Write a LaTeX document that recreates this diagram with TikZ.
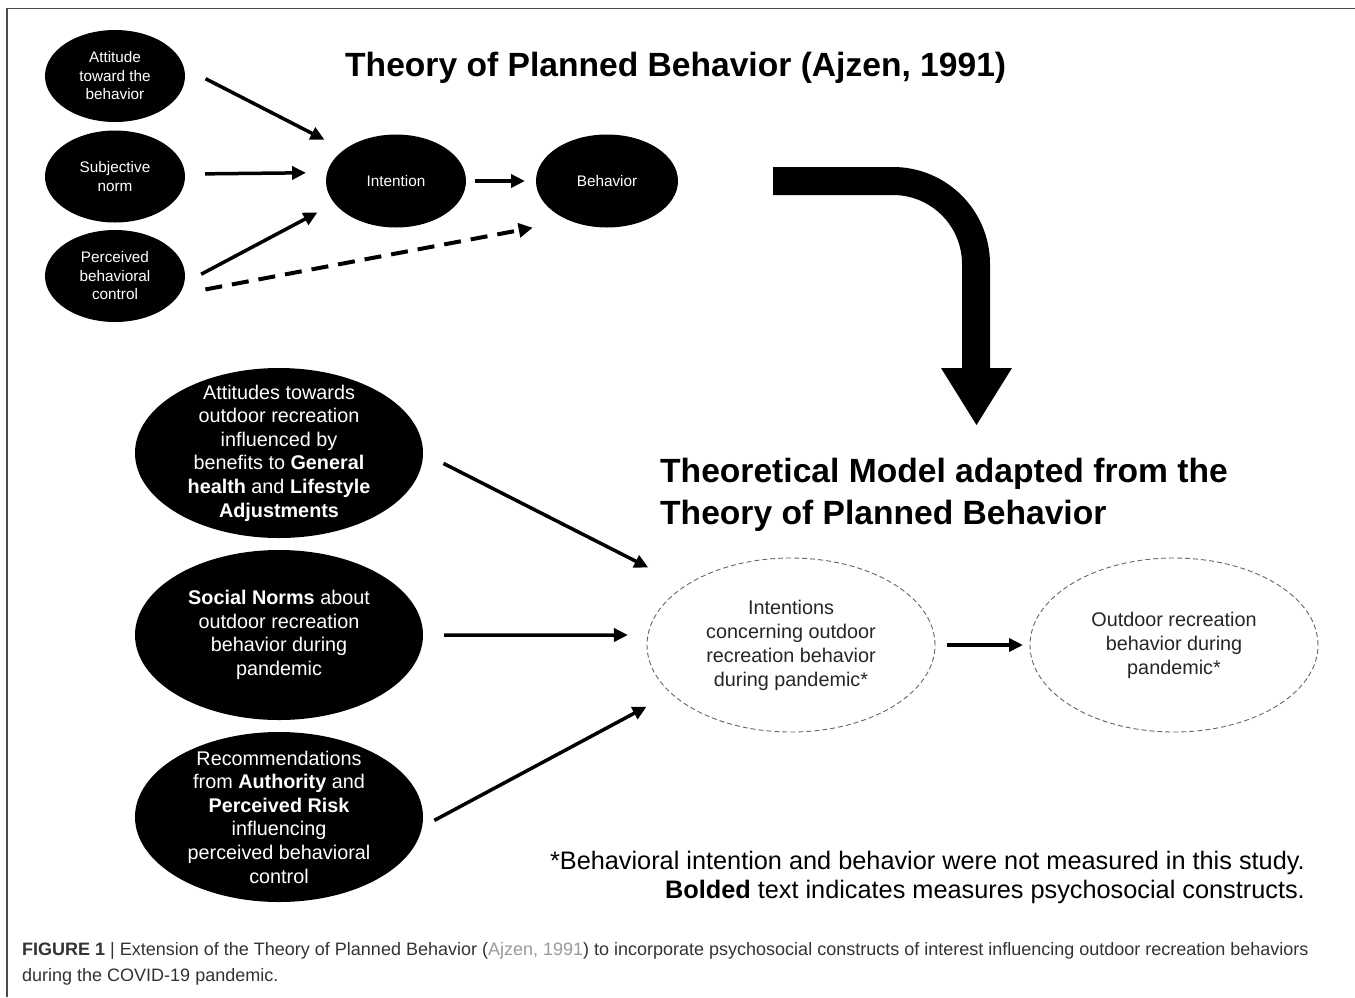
\documentclass[tikz,border=0pt]{standalone}
\usepackage{fontspec}
\setmainfont{Liberation Sans}
\usetikzlibrary{arrows.meta,shapes.geometric}
\definecolor{capgray}{HTML}{333333}
\definecolor{linkgray}{HTML}{9A9A9A}
\definecolor{framegray}{HTML}{4A4A4A}
\begin{document}
\begin{tikzpicture}[x=1pt,y=-1pt,
  blk/.style={ellipse, fill=black, draw=none, inner sep=0pt, outer sep=0pt},
  dell/.style={ellipse, draw=black!60, dash pattern=on 5pt off 3pt, line width=0.9pt, inner sep=0pt, outer sep=0pt},
  smtxt/.style={text=white, align=center, font=\fontsize{15.3}{18.5}\selectfont, inner sep=0pt},
  bigtxt/.style={text=white, align=center, font=\fontsize{19.8}{23.6}\selectfont, inner sep=0pt},
  dtxt/.style={text=black!85, align=center, font=\fontsize{19.8}{24}\selectfont, inner sep=0pt},
  arr/.style={line width=3.5pt, -{Triangle[length=14pt,width=13pt]}},
  darr/.style={line width=4pt, dash pattern=on 17pt off 10pt, -{Triangle[length=14pt,width=14pt]}},
  ttl/.style={font=\fontsize{33.6}{42}\selectfont\bfseries, inner sep=0pt, anchor=base west},
  foot/.style={font=\fontsize{25.3}{30}\selectfont, inner sep=0pt, anchor=base east},
  captxt/.style={font=\fontsize{18}{26}\selectfont, text=capgray, inner sep=0pt, anchor=base west},
]
\useasboundingbox (0,0) rectangle (1355,997);
\fill[white] (0,0) rectangle (1355,997);
% frame
\draw[framegray, line width=1.6pt] (7,997) -- (7,8.5) -- (1355,8.5);

% ---- Theory of Planned Behavior (top) ----
\node[ttl] (title1) at (345,76) {Theory of Planned Behavior (Ajzen, 1991)};

\node[blk, minimum width=140pt, minimum height=92pt] (att) at (115,76) {};
\node[smtxt] (attt) at (att) {Attitude\\toward the\\behavior};
\node[blk, minimum width=140pt, minimum height=92pt] (sub) at (115,176.5) {};
\node[smtxt] (subt) at (sub) {Subjective\\norm};
\node[blk, minimum width=140pt, minimum height=92pt] (pbc) at (115,276) {};
\node[smtxt] (pbct) at (pbc) {Perceived\\behavioral\\control};
\node[blk, minimum width=140pt, minimum height=93pt] (int) at (396,181) {};
\node[smtxt] (intt) at (int) {Intention};
\node[blk, minimum width=142pt, minimum height=93pt] (beh) at (607,181) {};
\node[smtxt] (beht) at (beh) {Behavior};

\draw[arr, shorten <=24.5pt, shorten >=22pt] (att.7.8) -- (int.149.6);
\draw[arr, shorten <=20.2pt, shorten >=21.1pt] (sub.2.9) -- (int.173.4);
\draw[arr, shorten <=19.3pt, shorten >=19.4pt] (pbc.-6.6) -- (int.200.6);
\draw[darr, shorten <=26.7pt, shorten >=38pt] (pbc.-16.6) -- (beh.227.5);
\draw[arr, shorten <=9pt, shorten >=11pt] (int.east) -- (beh.west);

% ---- big bent arrow ----
\fill[black] (773,167) -- (893,167) arc[start angle=90,end angle=0,radius=97pt]
  -- (990,368) -- (1012,368) -- (976.5,425) -- (941,368) -- (962,368)
  -- (962,264) arc[start angle=0,end angle=90,radius=69pt] -- (773,195) -- cycle;

% ---- adapted model ----
\node[ttl] (title2a) at (660,482) {Theoretical Model adapted from the};
\node[ttl] (title2b) at (660,524) {Theory of Planned Behavior};

\node[blk, minimum width=288pt, minimum height=170pt] (e1) at (279,453) {};
\node[bigtxt] (e1t) at (e1) {Attitudes towards\\outdoor recreation\\influenced by\\benefits to \textbf{General}\\\textbf{health} and \textbf{Lifestyle}\\\textbf{Adjustments}};
\node[blk, minimum width=288pt, minimum height=170pt] (e2) at (279,635) {};
\node[bigtxt] (e2t) at (e2) {\textbf{Social Norms} about\\outdoor recreation\\behavior during\\pandemic};
\node[blk, minimum width=288pt, minimum height=170pt] (e3) at (279,817) {};
\node[bigtxt] (e3t) at (e3) {Recommendations\\from \textbf{Authority} and\\\textbf{Perceived Risk}\\influencing\\perceived behavioral\\control};

\node[dell, minimum width=288pt, minimum height=174pt] (di) at (791,645) {};
\node[dtxt] (dit) at (di) {Intentions\\concerning outdoor\\recreation behavior\\during pandemic*};
\node[dell, minimum width=288pt, minimum height=174pt] (do) at (1174,645) {};
\node[dtxt] (dot) at (do) {Outdoor recreation\\behavior during\\pandemic*};

\draw[arr, shorten <=23pt, shorten >=41pt] (e1.east) -- (di.151);
\draw[arr, shorten <=21pt, shorten >=20pt] (e2.east) -- (di.176);
\draw[arr, shorten <=14pt, shorten >=28pt] (e3.-4.65) -- (di.202.8);
\draw[arr, shorten <=12pt, shorten >=7pt] (di.east) -- (do.west);

% ---- footnote ----
\node[foot] (fn1) at (1305,869) {*Behavioral intention and behavior were not measured in this study.};
\node[foot] (fn2) at (1305,898) {\textbf{Bolded} text indicates measures psychosocial constructs.};

% ---- caption ----
\node[captxt] (cap1) at (22,955) {\textbf{FIGURE 1} | Extension of the Theory of Planned Behavior ({\color{linkgray}Ajzen, 1991}) to incorporate psychosocial constructs of interest influencing outdoor recreation behaviors};
\node[captxt] (cap2) at (22,981) {during the COVID-19 pandemic.};
\end{tikzpicture}
\end{document}
